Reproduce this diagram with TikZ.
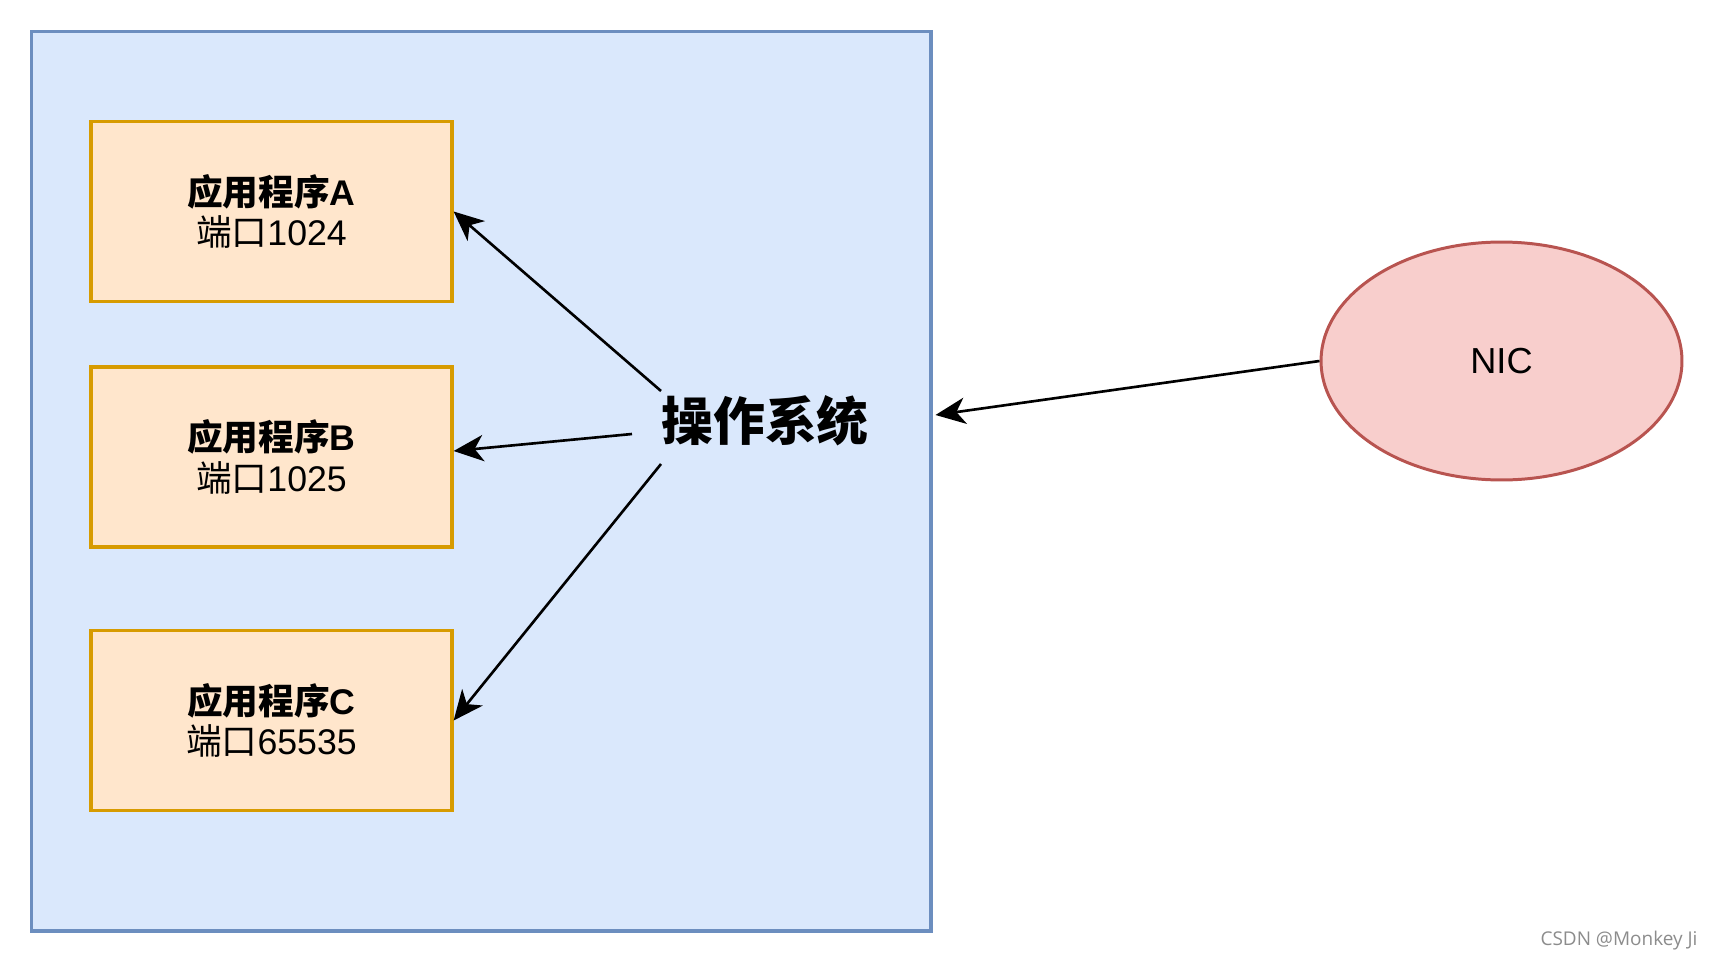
\documentclass[tikz,border=0pt]{standalone}
\usepackage{fontspec}
\setmainfont{Liberation Sans}
\newfontfamily\cjk{Noto Sans CJK SC}
\newfontfamily\markfont{Open Sans}
\usetikzlibrary{arrows.meta,positioning,calc,shapes.geometric}
\usepackage{xcolor}

\definecolor{osfill}{HTML}{DAE8FC}
\definecolor{osline}{HTML}{6C8EBF}
\definecolor{appfill}{HTML}{FFE6CC}
\definecolor{appline}{HTML}{D79B00}
\definecolor{nicfill}{HTML}{F8CECC}
\definecolor{nicline}{HTML}{B85450}

\tikzset{
  appbox/.style={draw=appline, fill=appfill, line width=1.9pt,
    minimum width=7.22cm, minimum height=3.6cm, inner sep=0pt,
    align=center, font=\fontsize{20.3}{23}\selectfont},
  flow/.style={line width=1.5pt, -{Stealth[length=17pt,width=15pt,inset=5pt]}}
}

\begin{document}
\begin{tikzpicture}[x=0.02cm, y=-0.02cm]
  \useasboundingbox (0,0) rectangle (1713,963);

  % operating system area
  \node[draw=osline, fill=osfill, line width=1.8pt, minimum width=18cm,
    minimum height=18cm, inner sep=0pt] (osbox) at (481,481) {};
  \node[font=\fontsize{29.5}{34}\selectfont] (os) at (765,421) {\cjk\bfseries 操作系统};

  % applications
  \node[appbox] (appA) at (271.5,211.5) {{\cjk\bfseries 应用程序}\textbf{A}\\{\cjk 端口}1024};
  \node[appbox] (appB) at (271.5,457) {{\cjk\bfseries 应用程序}\textbf{B}\\{\cjk 端口}1025};
  \node[appbox] (appC) at (271.5,720.5) {{\cjk\bfseries 应用程序}\textbf{C}\\{\cjk 端口}65535};

  % network card
  \node[ellipse, draw=nicline, fill=nicfill, line width=1.7pt, minimum width=7.22cm,
    minimum height=4.76cm, inner sep=0pt, font=\fontsize{20.6}{25}\selectfont] (nic) at (1501.5,361) {NIC};

  % dispatch
  \coordinate (osA) at (661,391);
  \coordinate (osB) at (632,434);
  \coordinate (osC) at (661,464);
  \draw[flow] (osA) -- (appA.east);
  \draw[flow] (osB) -- ([yshift=0.12cm]appB.east);
  \draw[flow] (osC) -- (appC.east);
  \draw[flow] (nic.west) -- ($(osbox.east)+(3,-66)$);

  \node[text=black!45, font=\markfont\fontsize{10.8}{12}\selectfont] (mark) at (1619,941) {CSDN @Monkey Ji};
\end{tikzpicture}
\end{document}
